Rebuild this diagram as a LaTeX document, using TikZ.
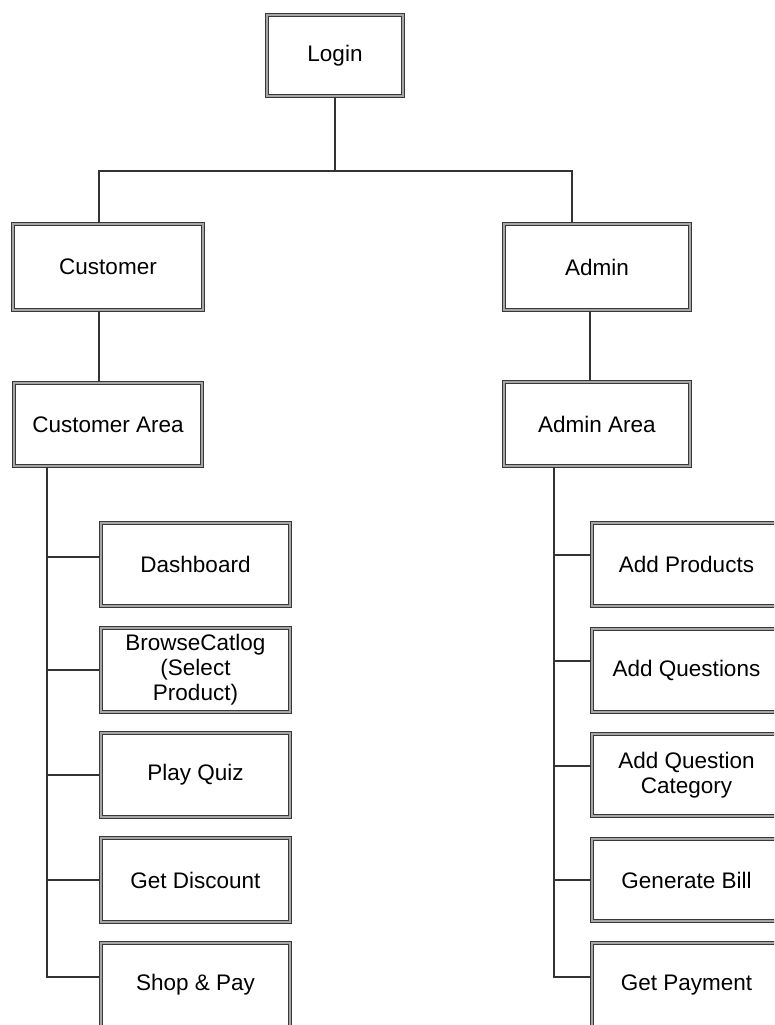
\documentclass[tikz,border=0pt]{standalone}
\usepackage{fontspec}
\setmainfont{Liberation Sans}
\begin{document}
\begin{tikzpicture}[x=1pt,y=-1pt,
  box/.style={draw=black!78, double=black!35, line width=1.3pt, double distance=1.5pt,
    fill=white, align=center, font=\fontsize{22.5}{25}\selectfont, text=black, inner sep=0pt},
  link/.style={draw=black!80, line width=1.2pt}]
\useasboundingbox (0,0) rectangle (774,1025);
\clip (0,0) rectangle (774,1025);
\fill[white] (0,0) rectangle (774,1025);

% top level
\node[box, minimum width=136, minimum height=81] (login) at (335,55.5) {Login};
\node[box, minimum width=190, minimum height=86] (cust) at (108,267) {Customer};
\node[box, minimum width=186, minimum height=86] (admin) at (597,267) {Admin};
\node[box, minimum width=188, minimum height=83] (carea) at (108,424.5) {Customer Area};
\node[box, minimum width=186, minimum height=84] (aarea) at (597,424) {Admin Area};

% customer functions
\node[box, minimum width=189, minimum height=83] (dash) at (195.5,564.5) {Dashboard};
\node[box, minimum width=189, minimum height=84] (browse) at (195.5,670) {BrowseCatlog\\(Select\\Product)};
\node[box, minimum width=189, minimum height=84] (quiz) at (195.5,775) {Play Quiz};
\node[box, minimum width=189, minimum height=84] (disc) at (195.5,880) {Get Discount};
\node[box, minimum width=189, minimum height=84] (shop) at (195.5,985) {Shop \& Pay};

% admin functions
\node[box, minimum width=189, minimum height=83] (aprod) at (686.5,564.5) {Add Products};
\node[box, minimum width=189, minimum height=83] (aques) at (686.5,670.5) {Add Questions};
\node[box, minimum width=189, minimum height=82] (acat) at (686.5,775) {Add Question\\Category};
\node[box, minimum width=189, minimum height=82] (bill) at (686.5,880) {Generate Bill};
\node[box, minimum width=189, minimum height=84] (pay) at (686.5,985) {Get Payment};

% junction points
\coordinate (busL) at (99,171);
\coordinate (busR) at (572,171);
\coordinate (dropR) at (590,0);
\coordinate (trunkL) at (47,0);
\coordinate (trunkR) at (554,0);

% connectors
\draw[link] (login.south) -- (login.south |- busL);
\draw[link] (cust.north -| busL) -- (busL) -- (busR) -- (admin.north -| busR);
\draw[link] (cust.south -| busL) -- (carea.north -| busL);
\draw[link] (admin.south -| dropR) -- (aarea.north -| dropR);

\draw[link] (carea.south -| trunkL) -- ([yshift=8pt]shop.west -| trunkL) -- ([yshift=8pt]shop.west);
\draw[link] ([yshift=7.5pt]dash.west -| trunkL) -- ([yshift=7.5pt]dash.west);
\draw[link] (browse.west -| trunkL) -- (browse.west);
\draw[link] (quiz.west -| trunkL) -- (quiz.west);
\draw[link] (disc.west -| trunkL) -- (disc.west);

\draw[link] (aarea.south -| trunkR) -- ([yshift=8pt]pay.west -| trunkR) -- ([yshift=8pt]pay.west);
\draw[link] ([yshift=9.5pt]aprod.west -| trunkR) -- ([yshift=9.5pt]aprod.west);
\draw[link] ([yshift=9.5pt]aques.west -| trunkR) -- ([yshift=9.5pt]aques.west);
\draw[link] ([yshift=9pt]acat.west -| trunkR) -- ([yshift=9pt]acat.west);
\draw[link] (bill.west -| trunkR) -- (bill.west);
\end{tikzpicture}
\end{document}
